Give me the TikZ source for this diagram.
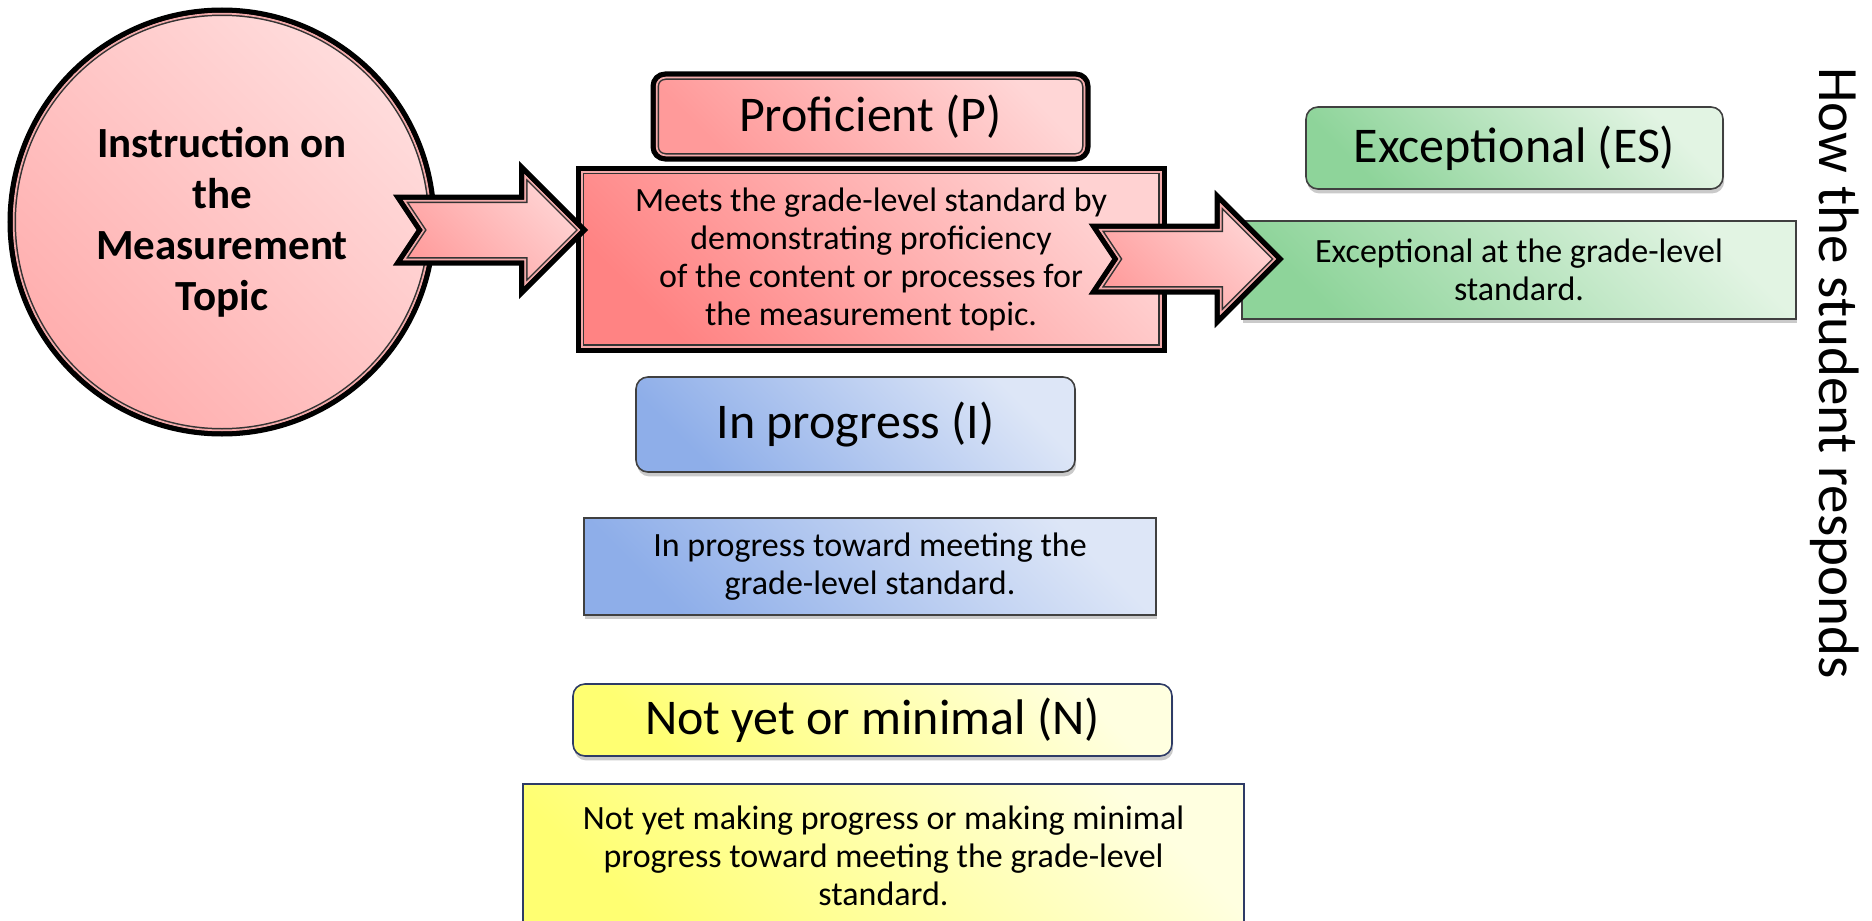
\documentclass[tikz,border=0pt]{standalone}
\usepackage{fontspec}
\setmainfont{Carlito}
\usetikzlibrary{shadows}

% palette
\definecolor{frameline}{HTML}{F2AAAA}
\definecolor{circtop}{HTML}{FFDCDC}
\definecolor{circbot}{HTML}{FFAEAE}
\definecolor{redtop}{HTML}{FFD2D2}
\definecolor{redbot}{HTML}{FF8383}
\definecolor{proftop}{HTML}{FFD6D6}
\definecolor{profbot}{HTML}{FF9A9A}
\definecolor{greentop}{HTML}{E2F4E3}
\definecolor{greenbot}{HTML}{8ED49A}
\definecolor{bluetop}{HTML}{DDE6F7}
\definecolor{bluebot}{HTML}{8EAEE9}
\definecolor{yellowtop}{HTML}{FFFFE0}
\definecolor{yellowbot}{HTML}{FFFF72}
\definecolor{navyedge}{HTML}{2E3B66}

\tikzset{
  % light towards the upper right, stronger towards the lower left
  diag/.style 2 args={top color=#1, bottom color=#2, shading angle=-45},
  % heavy black edge followed by a pink and a dark inner line
  tripleframe/.style={
    draw=black, line width=2.5pt,
    path picture={
      \draw[line width=6pt, black!80, #1] (path picture bounding box.south west) rectangle (path picture bounding box.north east);
      \draw[line width=4.5pt, frameline, #1] (path picture bounding box.south west) rectangle (path picture bounding box.north east);
      \draw[line width=2.5pt, black, #1] (path picture bounding box.south west) rectangle (path picture bounding box.north east);
    }},
  circframe/.style={
    draw=black, line width=2.5pt,
    path picture={
      \draw[line width=6pt, black!80] (path picture bounding box.center) circle[radius=#1];
      \draw[line width=4.5pt, frameline] (path picture bounding box.center) circle[radius=#1];
      \draw[line width=2.5pt, black] (path picture bounding box.center) circle[radius=#1];
    }},
  softbox/.style n args={3}{draw=#3, line width=0.8pt, diag={#1}{#2},
    drop shadow={shadow xshift=0.6pt, shadow yshift=-2.2pt, opacity=0.35, fill=black!60}},
  boxnode/.style={rectangle, inner sep=0pt},
  head/.style={font=\fontsize{25}{30}\selectfont},
  body/.style={font=\fontsize{17}{19}\selectfont, align=center},
}

% notched block arrow whose tip sits at the given coordinate
\newcommand\pinkarrow[1]{%
  \def\arrowpath{(#1) -- ++(-63,-63) -- ++(0,30) -- ++(-124,0) -- ++(22,33)
    -- ++(-22,33) -- ++(124,0) -- ++(0,30) -- cycle}%
  \begin{scope}
    \clip \arrowpath;
    \shade[diag={proftop}{profbot}] \arrowpath;
    \draw[line width=6pt, black!80] \arrowpath;
    \draw[line width=4.5pt, frameline] \arrowpath;
    \draw[line width=2.5pt, black] \arrowpath;
  \end{scope}
  \draw[line width=2.5pt, line join=miter] \arrowpath;
}

\begin{document}
\begin{tikzpicture}[x=0.5pt, y=-0.5pt]
\useasboundingbox (0,0) rectangle (1872,920);
\clip (0,0) rectangle (1872,920);

% topic circle
\node[circle, minimum size=212pt, inner sep=0pt, diag={circtop}{circbot}, circframe=106pt,
      font=\bfseries\fontsize{21.5}{25.5}\selectfont, align=center]
  (topic) at (222,222) {Instruction on\\the\\Measurement\\Topic};

% proficient level
\node[boxnode, rounded corners=6pt, minimum width=217.5pt, minimum height=42.5pt,
      diag={proftop}{profbot}, tripleframe={rounded corners=6pt}, head]
  (prof) at (870.5,116.5) {Proficient (P)};
\node[boxnode, minimum width=293pt, minimum height=91pt,
      diag={redtop}{redbot}, tripleframe=sharp corners, body]
  (meets) at (871,259) {Meets the grade-level standard by\\demonstrating proficiency\\of the content or processes for\\the measurement topic.};

% exceptional level
\node[boxnode, rounded corners=6pt, minimum width=208.5pt, minimum height=41pt,
      softbox={greentop}{greenbot}{black!75}, head]
  (es) at (1514.5,148) {Exceptional (ES)};
\node[boxnode, minimum width=277pt, minimum height=49pt,
      softbox={greentop}{greenbot}{black!75}, body]
  (esd) at (1519,270) {Exceptional at the grade-level\\standard.};

% in progress level
\node[boxnode, rounded corners=6pt, minimum width=219.5pt, minimum height=47.5pt,
      softbox={bluetop}{bluebot}{black!75}, head]
  (ip) at (855.5,424.5) {In progress (I)};
\node[boxnode, minimum width=286pt, minimum height=48.5pt,
      softbox={bluetop}{bluebot}{black!75}, body]
  (ipd) at (870,566.5) {In progress toward meeting the\\grade-level standard.};

% not yet level
\node[boxnode, rounded corners=6pt, minimum width=299.5pt, minimum height=36pt,
      softbox={yellowtop}{yellowbot}{navyedge}, head]
  (ny) at (872.5,720) {Not yet or minimal (N)};
\node[boxnode, minimum width=360.5pt, minimum height=72pt,
      softbox={yellowtop}{yellowbot}{navyedge}, body]
  (nyd) at (883.5,856) {Not yet making progress or making minimal\\progress toward meeting the grade-level\\standard.};

% side caption
\node[rotate=-90, font=\fontsize{28.5}{34}\selectfont] (resp) at (1835,373) {How the student responds};

% block arrows
\coordinate (tipA) at ([shift={(9,-29)}]meets.west);
\coordinate (tipB) at ([shift={(39,-11)}]esd.west);
\pinkarrow{tipA}
\pinkarrow{tipB}
\end{tikzpicture}
\end{document}
